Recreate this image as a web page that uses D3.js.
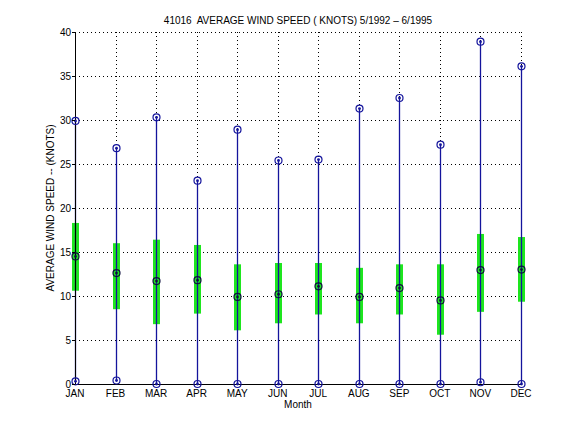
<!doctype html>
<html>
<head>
<script src="https://d3js.org/d3.v7.min.js"></script>
<style>
  body { margin: 0; background: #fff; }
  text { font-family: "Liberation Sans", Arial, Helvetica, sans-serif; }
</style>
</head>
<body>
<svg id="chart" width="576" height="432"></svg>
<script>
// monthly wind speed statistics (knots)
var months = ["JAN","FEB","MAR","APR","MAY","JUN","JUL","AUG","SEP","OCT","NOV","DEC"];
var maxSpeed  = [29.9, 26.8, 30.3, 23.1, 28.9, 25.4, 25.5, 31.3, 32.5, 27.2, 38.9, 36.1];
var minSpeed  = [0.3, 0.4, 0, 0, 0, 0, 0, 0, 0, 0, 0.2, 0];
var meanSpeed = [14.5, 12.6, 11.7, 11.8, 9.9, 10.2, 11.1, 9.9, 10.9, 9.5, 12.95, 13.0];
var lowBand   = [10.6, 8.5, 6.8, 8.0, 6.1, 6.9, 7.9, 6.9, 7.9, 5.6, 8.2, 9.35];
var highBand  = [18.3, 16.0, 16.4, 15.8, 13.6, 13.75, 13.75, 13.2, 13.6, 13.6, 17.05, 16.7];
var yTicks = [0, 5, 10, 15, 20, 25, 30, 35, 40];

var svg = d3.select("#chart");
var plotL = 75, plotR = 521, plotT = 32, plotB = 384;
var blue = "#14149c";

var x = d3.scaleLinear().domain([1, 12]).range([plotL, plotR]);
var y = d3.scaleLinear().domain([0, 40]).range([plotB, plotT]);

// grid
var grid = svg.append("g")
  .attr("stroke", "#000")
  .attr("stroke-width", 1)
  .attr("stroke-dasharray", "1,3");
grid.selectAll(".hg").data(yTicks.filter(function(d){ return d > 0; }))
  .enter().append("line")
  .attr("x1", plotL).attr("x2", plotR)
  .attr("y1", function(d){ return Math.round(y(d)) + 0.5; })
  .attr("y2", function(d){ return Math.round(y(d)) + 0.5; });
grid.selectAll(".vg").data(months.slice(1))
  .enter().append("line")
  .attr("x1", function(d, i){ return Math.round(x(i + 2)) + 0.5; })
  .attr("x2", function(d, i){ return Math.round(x(i + 2)) + 0.5; })
  .attr("y1", plotT).attr("y2", plotB);

// green bands
svg.append("g").selectAll("rect").data(months)
  .enter().append("rect")
  .attr("x", function(d, i){ return Math.round(x(i + 1)) - 3; })
  .attr("width", 7)
  .attr("y", function(d, i){ return y(highBand[i]); })
  .attr("height", function(d, i){ return y(lowBand[i]) - y(highBand[i]); })
  .attr("fill", "#1ee61e");

// min-max lines
svg.append("g").selectAll("line").data(months)
  .enter().append("line")
  .attr("x1", function(d, i){ return Math.round(x(i + 1)) + 0.5; })
  .attr("x2", function(d, i){ return Math.round(x(i + 1)) + 0.5; })
  .attr("y1", function(d, i){ return y(minSpeed[i]); })
  .attr("y2", function(d, i){ return y(maxSpeed[i]); })
  .attr("stroke", blue)
  .attr("stroke-width", 1.3);

// axes lines
svg.append("line").attr("x1", plotL + 0.5).attr("x2", plotL + 0.5)
  .attr("y1", plotT).attr("y2", plotB).attr("stroke", "#000");
svg.append("line").attr("x1", plotL).attr("x2", plotR)
  .attr("y1", plotB + 0.5).attr("y2", plotB + 0.5).attr("stroke", "#000");

// markers
function markers(values, col) {
  var g = svg.append("g");
  g.selectAll("circle.o").data(values).enter().append("circle")
    .attr("cx", function(d, i){ return Math.round(x(i + 1)) + 0.5; })
    .attr("cy", function(d){ return y(d); })
    .attr("r", 3.5)
    .attr("fill", "none")
    .attr("stroke", col)
    .attr("stroke-width", 1.2);
  g.selectAll("circle.d").data(values).enter().append("circle")
    .attr("cx", function(d, i){ return Math.round(x(i + 1)) + 0.5; })
    .attr("cy", function(d){ return y(d); })
    .attr("r", 1.4)
    .attr("fill", col);
}
markers(maxSpeed, blue);
markers(minSpeed, blue);
markers(meanSpeed, "#101040");

// y tick labels
svg.append("g").selectAll("line").data(yTicks).enter().append("line")
  .attr("x1", plotL - 3).attr("x2", plotL)
  .attr("y1", function(d){ return Math.round(y(d)) + 0.5; })
  .attr("y2", function(d){ return Math.round(y(d)) + 0.5; })
  .attr("stroke", "#000");
svg.append("g").selectAll("text").data(yTicks).enter().append("text")
  .attr("x", plotL - 4)
  .attr("y", function(d){ return y(d) + 3.5; })
  .attr("text-anchor", "end")
  .attr("font-size", 10)
  .text(function(d){ return d; });

// x tick labels
svg.append("g").selectAll("text").data(months).enter().append("text")
  .attr("x", function(d, i){ return x(i + 1); })
  .attr("y", plotB + 13)
  .attr("text-anchor", "middle")
  .attr("font-size", 10)
  .text(function(d){ return d; });

// titles
svg.append("text").attr("x", (plotL + plotR) / 2).attr("y", 24)
  .attr("text-anchor", "middle").attr("font-size", 10)
  .attr("xml:space", "preserve")
  .text("41016  AVERAGE WIND SPEED ( KNOTS) 5/1992 \u2013 6/1995");
svg.append("text").attr("x", (plotL + plotR) / 2).attr("y", 408)
  .attr("text-anchor", "middle").attr("font-size", 10)
  .text("Month");
svg.append("text")
  .attr("transform", "translate(54," + ((plotT + plotB) / 2) + ") rotate(-90)")
  .attr("text-anchor", "middle").attr("font-size", 10)
  .text("AVERAGE WIND SPEED -- (KNOTS)");
</script>
</body>
</html>
